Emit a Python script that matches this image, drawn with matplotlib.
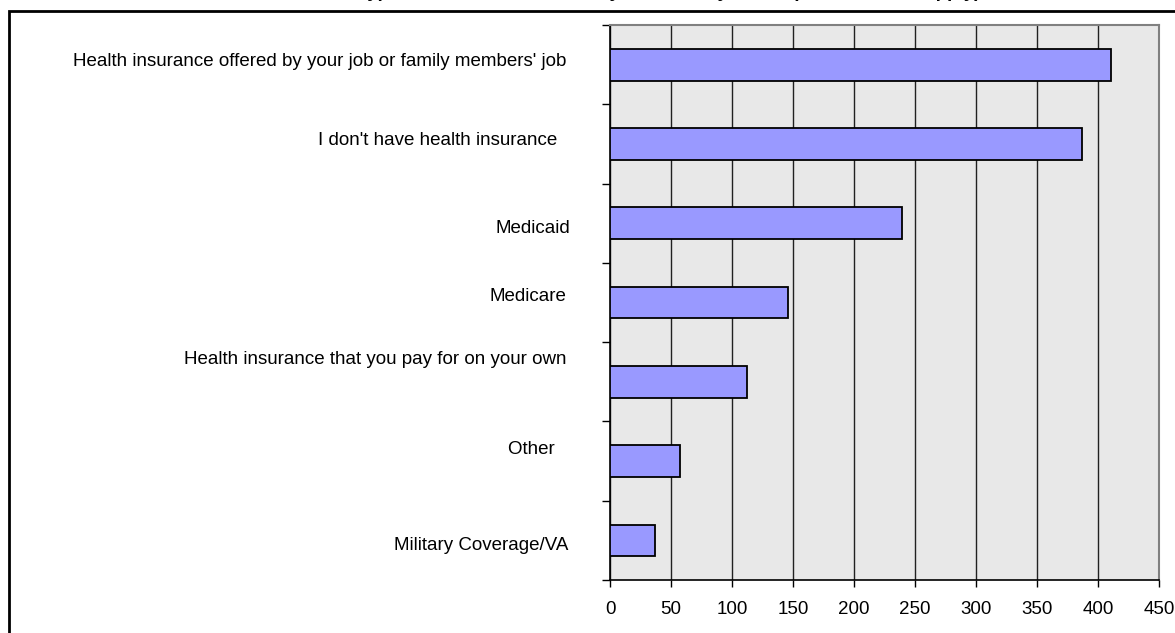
import matplotlib
matplotlib.use('Agg')
import matplotlib.pyplot as plt
from matplotlib.patches import Rectangle
import numpy as np

# Survey responses, top to bottom
categories = [
    "Health insurance offered by your job or family members' job",
    "I don't have health insurance ",
    "Medicaid",
    "Medicare",
    "Health insurance that you pay for on your own",
    "Other ",
    "Military Coverage/VA",
]
counts = [411, 387, 239, 146, 112, 57, 37]
xticks = [0, 50, 100, 150, 200, 250, 300, 350, 400, 450]

# label nudges (pixels) so the text sits like the original sheet layout
label_dx = [-44, -48, -40, -44, -43, -50, -42]
label_dy = [3, 3, -5, 6, 22, 12, -5]

plt.rcParams['font.family'] = ['Liberation Sans', 'DejaVu Sans']

fig = plt.figure(figsize=(11.75, 6.33), dpi=100)
ax = fig.add_axes([610 / 1175, 1 - 580 / 633, 549 / 1175, 555 / 633])
ax.set_facecolor('#E8E8E8')

y = np.arange(len(categories))
ax.barh(y, counts, height=0.4, color='#9999FF', edgecolor='black',
        linewidth=1.3, zorder=3)

ax.set_xlim(0, 450)
ax.set_ylim(len(categories) - 0.5, -0.5)
ax.set_xticks(xticks)
ax.set_xticklabels([str(t) for t in xticks], fontsize=13.5)
ax.set_yticks(np.arange(len(categories) + 1) - 0.5)
ax.set_yticklabels([])
ax.tick_params(axis='x', direction='out', length=5, width=1, pad=10)
ax.tick_params(axis='y', direction='out', length=6, width=1)

ax.grid(axis='x', color='#202020', linewidth=1, zorder=1)
for side in ('left', 'bottom'):
    ax.spines[side].set_color('black')
    ax.spines[side].set_linewidth(1.2)
for side in ('top', 'right'):
    ax.spines[side].set_color('#808080')
    ax.spines[side].set_linewidth(1.5)

for i, name in enumerate(categories):
    ax.annotate(name, xy=(0, i), xycoords=('axes fraction', 'data'),
                xytext=(label_dx[i], label_dy[i]), textcoords='offset pixels',
                ha='right', va='center', fontsize=13.5)

# chart title, sitting above the frame
fig.text(645 / 1175, 1 + 3 / 633,
         "What type of health insurance do you currently have? (Check all that apply)",
         ha='center', va='baseline', fontsize=13.5, fontweight='bold')

# outer chart border
fig.patches.append(Rectangle((9 / 1175, -0.1), 1.2, 1.1 - 11 / 633,
                             transform=fig.transFigure, fill=False,
                             edgecolor='black', linewidth=2))

fig.savefig('out.png', dpi=100)
